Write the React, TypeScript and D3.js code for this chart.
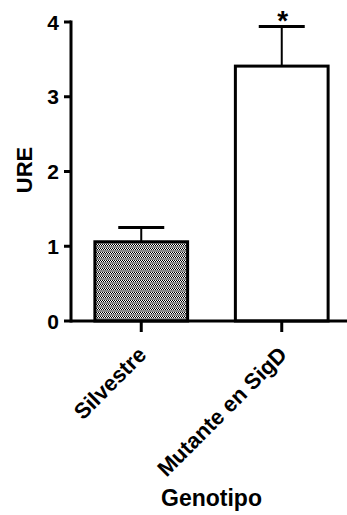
import React from "react";
import * as d3 from "d3";

const categories = ["Silvestre", "Mutante en SigD"];
const means = [1.06, 3.41];
const errors = [0.19, 0.53];
const significance = ["", "*"];
const yTicks = [0, 1, 2, 3, 4];

const FONT = "'Liberation Sans', Arial, Helvetica, sans-serif";

function App() {
  const svgRef = React.useRef<SVGSVGElement>(null);

  React.useEffect(() => {
    const width = 347;
    const height = 515;
    const svg = d3.select(svgRef.current).attr("width", width).attr("height", height);
    svg.selectAll("*").remove();

    const x0 = 71;
    const yScale = d3.scaleLinear().domain([0, 4]).range([321, 22]);
    const xScale = d3
      .scaleBand()
      .domain(categories)
      .range([x0, 352])
      .paddingInner(0.34)
      .paddingOuter(0.17);

    // dither pattern for the first bar
    const defs = svg.append("defs");
    const pat = defs
      .append("pattern")
      .attr("id", "dither")
      .attr("patternUnits", "userSpaceOnUse")
      .attr("width", 2)
      .attr("height", 4);
    pat.append("rect").attr("width", 2).attr("height", 4).attr("fill", "#fff");
    pat.append("rect").attr("x", 0).attr("y", 0).attr("width", 1).attr("height", 1).attr("fill", "#000");
    pat.append("rect").attr("x", 1).attr("y", 1).attr("width", 1).attr("height", 1).attr("fill", "#000");
    pat.append("rect").attr("x", 0).attr("y", 2).attr("width", 2).attr("height", 2).attr("fill", "#8a8a8a");

    // bars
    svg
      .selectAll(".bar")
      .data(categories)
      .enter()
      .append("rect")
      .attr("x", (d) => xScale(d)!)
      .attr("y", (d, i) => yScale(means[i]))
      .attr("width", xScale.bandwidth())
      .attr("height", (d, i) => yScale(0) - yScale(means[i]))
      .attr("fill", (d, i) => (i === 0 ? "url(#dither)" : "#fff"))
      .attr("stroke", "#000")
      .attr("stroke-width", 3);

    // error bars (upper only)
    const capHalf = 23;
    categories.forEach((c, i) => {
      const cx = xScale(c)! + xScale.bandwidth() / 2;
      const top = yScale(means[i] + errors[i]);
      svg
        .append("line")
        .attr("x1", cx)
        .attr("x2", cx)
        .attr("y1", yScale(means[i]))
        .attr("y2", top)
        .attr("stroke", "#000")
        .attr("stroke-width", 2);
      svg
        .append("line")
        .attr("x1", cx - capHalf)
        .attr("x2", cx + capHalf)
        .attr("y1", top)
        .attr("y2", top)
        .attr("stroke", "#000")
        .attr("stroke-width", 3);
      if (significance[i]) {
        svg
          .append("text")
          .attr("x", cx + 1)
          .attr("y", top + 4)
          .attr("text-anchor", "middle")
          .attr("font-family", FONT)
          .attr("font-weight", "bold")
          .attr("font-size", 28)
          .text(significance[i]);
      }
    });

    // y axis
    svg
      .append("line")
      .attr("x1", x0)
      .attr("x2", x0)
      .attr("y1", yScale(4) - 1.5)
      .attr("y2", yScale(0) + 1.5)
      .attr("stroke", "#000")
      .attr("stroke-width", 3);
    yTicks.forEach((t) => {
      svg
        .append("line")
        .attr("x1", x0 - 7)
        .attr("x2", x0)
        .attr("y1", yScale(t))
        .attr("y2", yScale(t))
        .attr("stroke", "#000")
        .attr("stroke-width", 3);
      svg
        .append("text")
        .attr("x", x0 - 12)
        .attr("y", yScale(t))
        .attr("dy", "0.36em")
        .attr("text-anchor", "end")
        .attr("font-family", FONT)
        .attr("font-weight", "bold")
        .attr("font-size", 21)
        .text(t);
    });

    // x axis
    svg
      .append("line")
      .attr("x1", x0)
      .attr("x2", width)
      .attr("y1", yScale(0))
      .attr("y2", yScale(0))
      .attr("stroke", "#000")
      .attr("stroke-width", 3);
    categories.forEach((c) => {
      const cx = xScale(c)! + xScale.bandwidth() / 2;
      svg
        .append("line")
        .attr("x1", cx)
        .attr("x2", cx)
        .attr("y1", yScale(0))
        .attr("y2", yScale(0) + 11)
        .attr("stroke", "#000")
        .attr("stroke-width", 3);
      svg
        .append("text")
        .attr("transform", `translate(${cx + 6.5},${yScale(0) + 35}) rotate(-45)`)
        .attr("text-anchor", "end")
        .attr("font-family", FONT)
        .attr("font-weight", "bold")
        .attr("font-size", 22)
        .text(c);
    });

    // axis titles
    svg
      .append("text")
      .attr("transform", `translate(32,170) rotate(-90)`)
      .attr("text-anchor", "middle")
      .attr("font-family", FONT)
      .attr("font-weight", "bold")
      .attr("font-size", 22)
      .text("URE");
    svg
      .append("text")
      .attr("x", 211.5)
      .attr("y", 506)
      .attr("text-anchor", "middle")
      .attr("font-family", FONT)
      .attr("font-weight", "bold")
      .attr("font-size", 23)
      .text("Genotipo");
  }, []);

  return (
    <svg ref={svgRef} style={{ position: "absolute", left: 0, top: 0, background: "#fff" }} />
  );
}

export default App;
